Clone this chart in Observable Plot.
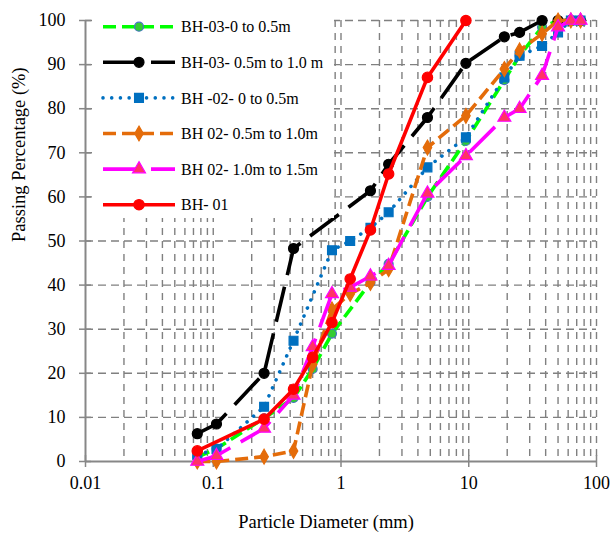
<!DOCTYPE html>
<html>
<head>
<meta charset="utf-8">
<script src="https://cdn.jsdelivr.net/npm/d3@7"></script>
<script src="https://cdn.jsdelivr.net/npm/@observablehq/plot@0.6"></script>
<style>
  html, body { margin: 0; padding: 0; background: white; }
</style>
</head>
<body>
<div id="chart"></div>
<script>
// ---- tick / grid values ----
const xTicks = [0.01, 0.1, 1, 10, 100];
const xMinor = [0.02,0.03,0.04,0.05,0.06,0.07,0.08,0.09,
                0.2,0.3,0.4,0.5,0.6,0.7,0.8,0.9,
                2,3,4,5,6,7,8,9,
                20,30,40,50,60,70,80,90];
const yTicks = [0,10,20,30,40,50,60,70,80,90,100];
const yGrid = [10,20,30,40,50,60,70,80,90,100];

// ---- series names ----
const seriesNames = ["BH-03-0 to 0.5m", "BH-03- 0.5m to 1.0 m", "BH -02- 0 to 0.5m",
                     "BH 02- 0.5m to 1.0m", "BH 02- 1.0m to 1.5m", "BH- 01"];

// ---- series values (particle diameter mm, passing %) ----
const s1x = [0.075, 0.106, 0.25, 0.425, 0.6, 0.85, 1.7, 2.36, 4.75, 9.5, 19, 25, 37.5, 50, 63, 75];
const s1y = [1, 2.9, 9.8, 14.4, 21, 29, 40.6, 44.8, 60, 72.7, 86.5, 92, 98.5, 100, 100, 100];

const s2x = [0.075, 0.106, 0.25, 0.425, 1.7, 2.36, 4.75, 9.5, 19, 25, 37.5, 50, 63, 75];
const s2y = [6.3, 8.5, 20, 48.3, 61.4, 67.4, 78, 90.3, 96.3, 97.3, 100, 100, 100, 100];

const s3x = [0.075, 0.106, 0.25, 0.425, 0.85, 1.18, 1.7, 2.36, 4.75, 9.5, 19, 25, 37.5, 50, 63, 75];
const s3y = [1.5, 2.8, 12.4, 27.4, 47.9, 50, 53, 56.5, 66.7, 73.5, 87.1, 92, 94.2, 97.3, 100, 100];

const s4x = [0.075, 0.106, 0.25, 0.425, 0.6, 0.85, 1.18, 1.7, 2.36, 4.75, 9.5, 19, 25, 37.5, 50, 63, 75];
const s4y = [0, 0, 1.1, 2.4, 22, 34.5, 38, 40.5, 43.6, 71.2, 78.4, 89, 93.2, 97, 100, 100, 100];

const s5x = [0.075, 0.106, 0.25, 0.425, 0.6, 0.85, 1.18, 1.7, 2.36, 4.75, 9.5, 19, 25, 37.5, 50, 63, 75];
const s5y = [0, 1.3, 7.5, 15, 26, 38, 39.5, 42, 44.4, 60.8, 69.3, 78, 80, 87.5, 98.5, 100, 100];

const s6x = [0.075, 0.25, 0.425, 0.6, 0.85, 1.18, 1.7, 2.36, 4.75, 9.5];
const s6y = [2.4, 9.6, 16.4, 23.6, 31.5, 41.4, 52.5, 65.2, 87.1, 100];

// ---- styles ----
const styles = [
  {line: "#00FF00", dash: "13,6", symbol: "circle", r: 4.5, fill: "#33CC33", mstroke: "#4472C4", lcap: "butt"},
  {line: "#000000", dash: "36,12", symbol: "circle", r: 5, fill: "#000000", mstroke: "#000000", lcap: "butt"},
  {line: "#0070C0", dash: "0.01,8.7", symbol: "square", r: 5, fill: "#0070C0", mstroke: "#0070C0", lcap: "round"},
  {line: "#E46C0A", dash: "13,6", symbol: "diamond", r: 4.5, fill: "#E46C0A", mstroke: "#E46C0A", lcap: "butt"},
  {line: "#FF00FF", dash: "36,12", symbol: "triangle", r: 4.8, fill: "#FF3366", mstroke: "#FF00FF", lcap: "butt"},
  {line: "#FF0000", dash: null, symbol: "circle", r: 5.2, fill: "#FF0000", mstroke: "#FF0000", lcap: "butt"}
];

const xs = [s1x, s2x, s3x, s4x, s5x, s6x];
const ys = [s1y, s2y, s3y, s4y, s5y, s6y];
const series = xs.map((xa, i) => xa.map((x, j) => ({x, y: ys[i][j], s: seriesNames[i]})));

const gridColor = "#808080";
const axisColor = "#878787";
const font = "Liberation Serif";

const dataMarks = [];
series.forEach((d, i) => {
  const st = styles[i];
  dataMarks.push(Plot.line(d, {x: "x", y: "y", stroke: st.line, strokeWidth: 3.6,
    strokeDasharray: st.dash, strokeLinecap: st.lcap, strokeLinejoin: "round"}));
  dataMarks.push(Plot.dot(d, {x: "x", y: "y", symbol: st.symbol, r: st.r,
    fill: st.fill, stroke: st.mstroke, strokeWidth: 1.2}));
});

const chart = Plot.plot({
  width: 611,
  height: 536,
  marginLeft: 85,
  marginRight: 15,
  marginTop: 20,
  marginBottom: 75,
  x: {type: "log", domain: [0.01, 100]},
  y: {domain: [0, 100]},
  style: {fontFamily: font, fontSize: "18px", color: "black", background: "white"},
  marks: [
    Plot.ruleX(xMinor.concat([0.1, 1, 10, 100]), {stroke: gridColor, strokeWidth: 1.4, strokeDasharray: "7,6"}),
    Plot.ruleY(yGrid, {stroke: gridColor, strokeWidth: 1.4, strokeDasharray: "8,5"}),
    Plot.ruleY([0], {stroke: axisColor, strokeWidth: 2}),
    Plot.ruleX([0.01], {stroke: axisColor, strokeWidth: 2}),
    Plot.axisX({ticks: xTicks, tickSize: 12, dy: -6, tickFormat: () => "", label: null, stroke: axisColor, strokeWidth: 1.5}),
    Plot.axisX({ticks: xTicks, tickSize: 0, tickPadding: 15, tickFormat: d => String(d), label: null, fontSize: 18, fontFamily: font}),
    Plot.axisY({ticks: yTicks, tickSize: 12, dx: 6, tickFormat: () => "", label: null, stroke: axisColor, strokeWidth: 1.5}),
    Plot.axisY({ticks: yTicks, tickSize: 0, tickPadding: 20, tickFormat: d => String(d), label: null, fontSize: 18, fontFamily: font}),
    ...dataMarks,
    Plot.text(["Particle Diameter (mm)"], {frameAnchor: "bottom", dy: 66, dx: -15, fontSize: 18.5, fill: "black", fontFamily: font}),
    Plot.text(["Passing Percentage (%)"], {frameAnchor: "left", dx: -66, dy: 1, rotate: -90, fontSize: 18.5, fill: "black", fontFamily: font})
  ]
});

document.getElementById("chart").appendChild(chart);

// ---- legend (white box covering the grid, upper-left) ----
const svg = d3.select(chart);
const lg = svg.append("g").attr("class", "legend");
lg.append("rect").attr("x", 92).attr("y", 12).attr("width", 242).attr("height", 206).attr("fill", "white");
const symMap = {circle: d3.symbolCircle, square: d3.symbolSquare, diamond: d3.symbolDiamond, triangle: d3.symbolTriangle};
seriesNames.forEach((name, i) => {
  const st = styles[i];
  const yy = 26.7 + i * 35.6;
  lg.append("line").attr("x1", 103).attr("x2", 175).attr("y1", yy).attr("y2", yy)
    .attr("stroke", st.line).attr("stroke-width", 3.6)
    .attr("stroke-dasharray", st.dash).attr("stroke-linecap", st.lcap);
  lg.append("path").attr("transform", `translate(139,${yy})`)
    .attr("d", d3.symbol(symMap[st.symbol], Math.PI * st.r * st.r)())
    .attr("fill", st.fill).attr("stroke", st.mstroke).attr("stroke-width", 1.2);
  lg.append("text").attr("x", 181).attr("y", yy).attr("dy", "0.35em")
    .attr("text-anchor", "start")
    .attr("font-family", font).attr("font-size", 16).attr("fill", "black").text(name);
});
</script>
</body>
</html>
